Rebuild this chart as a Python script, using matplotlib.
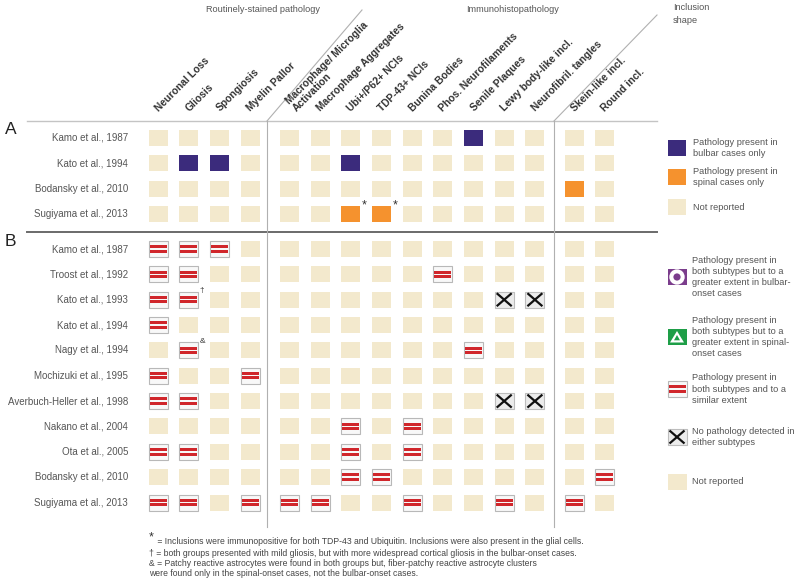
"""
Summary grid of bulbar- vs spinal-onset ALS pathology findings per study.
Writes out.png (800x579).
"""

import matplotlib

matplotlib.use("Agg")
import matplotlib.pyplot as plt  # noqa: E402
from matplotlib.patches import Rectangle, Circle, Polygon  # noqa: E402

plt.rcParams["font.family"] = ["Liberation Sans", "DejaVu Sans"]

# ---- data -----------------------------------------------------------------
COLUMNS = [
    "Neuronal Loss", "Gliosis", "Spongiosis", "Myelin Pallor",
    "Macrophage/ Microglia\nActivation", "Macrophage Aggregates",
    "Ubi+/P62+ NCIs", "TDP-43+ NCIs", "Bunina Bodies", "Phos. Neurofilaments",
    "Senile Plaques", "Lewy body-like incl.", "Neurofibril. tangles",
    "Skein-like incl.", "Round incl.",
]
COL_GROUP = [0, 0, 0, 0, 1, 1, 1, 1, 1, 1, 1, 1, 1, 2, 2]
GROUP_TITLES = ["Routinely-stained pathology", "Immunohistopathology",
                "Inclusion\nshape"]

STUDIES_A = ["Kamo et al., 1987", "Kato et al., 1994",
             "Bodansky et al., 2010", "Sugiyama et al., 2013"]
STUDIES_B = ["Kamo et al., 1987", "Troost et al., 1992", "Kato et al., 1993",
             "Kato et al., 1994", "Nagy et al., 1994", "Mochizuki et al., 1995",
             "Averbuch-Heller et al., 1998", "Nakano et al., 2004",
             "Ota et al., 2005", "Bodansky et al., 2010",
             "Sugiyama et al., 2013"]

# 0 not reported, 1 bulbar only, 2 spinal only,
# 3 both subtypes / similar extent, 4 not detected in either
GRID_A = [
    [0, 0, 0, 0, 0, 0, 0, 0, 0, 0, 1, 0, 0, 0, 0],
    [0, 1, 1, 0, 0, 0, 1, 0, 0, 0, 0, 0, 0, 0, 0],
    [0, 0, 0, 0, 0, 0, 0, 0, 0, 0, 0, 0, 0, 2, 0],
    [0, 0, 0, 0, 0, 0, 2, 2, 0, 0, 0, 0, 0, 0, 0],
]
GRID_B = [
    [3, 3, 3, 0, 0, 0, 0, 0, 0, 0, 0, 0, 0, 0, 0],
    [3, 3, 0, 0, 0, 0, 0, 0, 0, 3, 0, 0, 0, 0, 0],
    [3, 3, 0, 0, 0, 0, 0, 0, 0, 0, 0, 4, 4, 0, 0],
    [3, 0, 0, 0, 0, 0, 0, 0, 0, 0, 0, 0, 0, 0, 0],
    [0, 3, 0, 0, 0, 0, 0, 0, 0, 0, 3, 0, 0, 0, 0],
    [3, 0, 0, 3, 0, 0, 0, 0, 0, 0, 0, 0, 0, 0, 0],
    [3, 3, 0, 0, 0, 0, 0, 0, 0, 0, 0, 4, 4, 0, 0],
    [0, 0, 0, 0, 0, 0, 3, 0, 3, 0, 0, 0, 0, 0, 0],
    [3, 3, 0, 0, 0, 0, 3, 0, 3, 0, 0, 0, 0, 0, 0],
    [0, 0, 0, 0, 0, 0, 3, 3, 0, 0, 0, 0, 0, 0, 3],
    [3, 3, 0, 3, 3, 3, 0, 0, 3, 0, 0, 3, 0, 3, 0],
]
# (section, row, column, symbol)
MARKS = [("A", 3, 6, "*"), ("A", 3, 7, "*"), ("B", 2, 1, "\u2020"),
         ("B", 4, 1, "&")]

LEGEND_A = [(1, "Pathology present in\nbulbar cases only"),
            (2, "Pathology present in\nspinal cases only"),
            (0, "Not reported")]
LEGEND_B = [(5, "Pathology present in\nboth subtypes but to a\n"
                "greater extent in bulbar-\nonset cases"),
            (6, "Pathology present in\nboth subtypes but to a\n"
                "greater extent in spinal-\nonset cases"),
            (3, "Pathology present in\nboth subtypes and to a\nsimilar extent"),
            (4, "No pathology detected in\neither subtypes"),
            (0, "Not reported")]

FOOTNOTES = [
    "\u2020 = both groups presented with mild gliosis, but with more "
    "widespread cortical gliosis in the bulbar-onset cases.",
    "& = Patchy reactive astrocytes were found in both groups but, "
    "fiber-patchy reactive astrocyte clusters",
    "were found only in the spinal-onset cases, not the bulbar-onset cases.",
]
FOOTNOTE_STAR = (" = Inclusions were immunopositive for both TDP-43 and "
                 "Ubiquitin. Inclusions were also present in the glial cells.")

# ---- style / layout (pixel coords, y down) --------------------------------
BEIGE = "#f3e9cd"
PURPLE = "#3b2b7c"
ORANGE = "#f5922e"
RED = "#d0262b"
TEXT = "#555555"
W, H = 19, 16

X0, DX, GAP = 158, 30.7, 8.5
YA0, YB0, DY = 138, 249, 25.35


def col_x(i):
    return X0 + DX * i + GAP * COL_GROUP[i]


def draw_cell(ax, code, cx, cy, w=W, h=H):
    x, y = cx - w / 2, cy - h / 2
    if code in (0, 1, 2):
        ax.add_patch(Rectangle((x, y), w, h, lw=0,
                               fc={0: BEIGE, 1: PURPLE, 2: ORANGE}[code]))
    elif code == 3:
        ax.add_patch(Rectangle((x, y), w, h, fc="#f8f8f8", ec="#b8b8b8",
                               lw=0.8))
        for f in (0.36, 0.64):
            ax.add_patch(Rectangle((x + 1, y + h * f - 1.5), w - 2, 3,
                                   lw=0, fc=RED))
    elif code == 4:
        ax.add_patch(Rectangle((x, y), w, h, fc="#ececec", ec="#bdbdbd",
                               lw=0.8))
        ax.plot([x + 2, x + w - 2], [y + 1.5, y + h - 1.5], color="#111",
                lw=1.6, solid_capstyle="butt")
        ax.plot([x + 2, x + w - 2], [y + h - 1.5, y + 1.5], color="#111",
                lw=1.6, solid_capstyle="butt")
    elif code == 5:
        ax.add_patch(Rectangle((x, y), w, h, lw=0, fc="#7b3d8c"))
        ax.add_patch(Circle((cx, cy), h / 2 - 0.3, fc="white", lw=0))
        ax.add_patch(Circle((cx, cy), 3.6, fc="#7b3d8c", lw=0))
    elif code == 6:
        ax.add_patch(Rectangle((x, y), w, h, lw=0, fc="#1e9e47"))
        ax.add_patch(Polygon([(cx, y + 2), (x + 2.5, y + h - 2.5),
                              (x + w - 2.5, y + h - 2.5)], fc="white", lw=0))
        ax.add_patch(Polygon([(cx, y + 6), (x + 6.5, y + h - 4.7),
                              (x + w - 6.5, y + h - 4.7)], fc="#1e9e47", lw=0))


fig = plt.figure(figsize=(8.0, 5.79), dpi=100)
ax = fig.add_axes([0, 0, 1, 1])
ax.set_xlim(0, 800)
ax.set_ylim(579, 0)
ax.axis("off")

# frame lines
ax.plot([27, 657], [121, 121], color="#c4c4c4", lw=1)
ax.plot([27, 657], [232, 232], color="#6a6a6a", lw=1.4)
ax.plot([267, 267], [121, 527], color="#b0b0b0", lw=0.8)
ax.plot([554, 554], [121, 527], color="#b0b0b0", lw=0.8)
ax.plot([267, 362], [121, 10], color="#b0b0b0", lw=0.8)
ax.plot([554, 657], [121, 15], color="#b0b0b0", lw=0.8)

# group titles
ax.text(263, 10, GROUP_TITLES[0], ha="center", va="center", fontsize=6.6,
        color=TEXT)
ax.text(513, 9, GROUP_TITLES[1], ha="center", va="center", fontsize=6.6,
        color=TEXT)
ax.text(673, 14, GROUP_TITLES[2], ha="left", va="center", fontsize=6.6,
        color=TEXT, linespacing=1.5)

# column labels
for i, name in enumerate(COLUMNS):
    nudge = 9 if "\n" in name else 2
    ax.text(col_x(i) + nudge, 113, name, rotation=45, rotation_mode="anchor",
            ha="left", va="bottom", fontsize=7.4, fontweight="bold",
            color="#333333", linespacing=1.05)

# section letters
ax.text(5, 129, "A", fontsize=12.5, va="center", ha="left", color="#222")
ax.text(5, 241, "B", fontsize=12.5, va="center", ha="left", color="#222")

# grids
for name_list, grid, y0 in ((STUDIES_A, GRID_A, YA0),
                            (STUDIES_B, GRID_B, YB0)):
    for r, (name, row) in enumerate(zip(name_list, grid)):
        cy = y0 + DY * r
        ax.text(128, cy, name, ha="right", va="center", fontsize=7,
                color=TEXT)
        for c, code in enumerate(row):
            draw_cell(ax, code, col_x(c), cy)

for sec, r, c, sym in MARKS:
    cy = (YA0 if sec == "A" else YB0) + DY * r
    ax.text(col_x(c) + W / 2 + 1.5, cy - H / 2 - 1, sym, ha="left",
            va="center", fontsize=9 if sym == "*" else 6, color="#333")

# legends
for (code, label), cy in zip(LEGEND_A, [148, 177, 207]):
    draw_cell(ax, code, 677, cy, w=18, h=16)
    ax.text(693, cy, label, ha="left", va="center", fontsize=6.7, color=TEXT,
            linespacing=1.3)
for (code, label), cy in zip(LEGEND_B, [277, 337, 389, 437, 482]):
    draw_cell(ax, code, 677, cy, w=19, h=16)
    ax.text(692, cy, label, ha="left", va="center", fontsize=6.7, color=TEXT,
            linespacing=1.3)

# footnotes
ax.text(149, 537, "*", ha="left", va="center", fontsize=9, color="#333")
ax.text(155, 541, FOOTNOTE_STAR, ha="left", va="center", fontsize=6.2,
        color="#444")
for line, y in zip(FOOTNOTES, [553, 564, 574]):
    ax.text(149, y, line, ha="left", va="center", fontsize=6.2, color="#444")

fig.savefig("out.png", dpi=100)
